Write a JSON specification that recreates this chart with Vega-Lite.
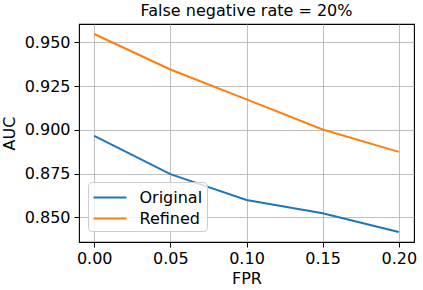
{
  "$schema": "https://vega.github.io/schema/vega-lite/v6.json",
  "width": 335,
  "height": 218,
  "autosize": {"type": "none"},
  "padding": {"left": 79, "top": 24, "right": 9, "bottom": 48},
  "background": "white",
  "title": {"text": "False negative rate = 20%", "fontSize": 16, "fontWeight": "normal", "font": "DejaVu Sans", "color": "black", "offset": 5},
  "config": {
    "font": "DejaVu Sans",
    "view": {"stroke": "black", "strokeWidth": 1.1},
    "axis": {
      "domain": false,
      "grid": true,
      "gridColor": "#b0b0b0",
      "gridWidth": 0.8,
      "tickColor": "black",
      "tickSize": 5,
      "tickWidth": 1,
      "labelFontSize": 16,
      "labelColor": "black",
      "titleFontSize": 16,
      "titleFontWeight": "normal",
      "titleColor": "black",
      "labelFont": "DejaVu Sans",
      "titleFont": "DejaVu Sans"
    }
  },
  "data": {
    "values": [
      {"FPR": 0.00, "AUC": 0.8966, "series": "Original"},
      {"FPR": 0.05, "AUC": 0.8747, "series": "Original"},
      {"FPR": 0.10, "AUC": 0.8599, "series": "Original"},
      {"FPR": 0.15, "AUC": 0.8523, "series": "Original"},
      {"FPR": 0.20, "AUC": 0.8416, "series": "Original"},
      {"FPR": 0.00, "AUC": 0.9548, "series": "Refined"},
      {"FPR": 0.05, "AUC": 0.9345, "series": "Refined"},
      {"FPR": 0.10, "AUC": 0.9174, "series": "Refined"},
      {"FPR": 0.15, "AUC": 0.9002, "series": "Refined"},
      {"FPR": 0.20, "AUC": 0.8874, "series": "Refined"}
    ]
  },
  "mark": {"type": "line", "strokeWidth": 2},
  "encoding": {
    "x": {
      "field": "FPR", "type": "quantitative", "title": "FPR",
      "scale": {"domain": [-0.01, 0.21], "nice": false, "zero": false},
      "axis": {"values": [0, 0.05, 0.1, 0.15, 0.2], "format": ".2f", "labelPadding": 3, "titlePadding": 4}
    },
    "y": {
      "field": "AUC", "type": "quantitative", "title": "AUC",
      "scale": {"domain": [0.8359, 0.9605], "nice": false, "zero": false},
      "axis": {"values": [0.85, 0.875, 0.9, 0.925, 0.95], "format": ".3f", "labelPadding": 4, "titlePadding": 7}
    },
    "color": {
      "field": "series", "type": "nominal",
      "scale": {"domain": ["Original", "Refined"], "range": ["#1f77b4", "#ff7f0e"]},
      "legend": {
        "title": null,
        "orient": "none",
        "legendX": 9,
        "legendY": 158,
        "symbolType": "M-1,0H2.3",
        "symbolSize": 400,
        "symbolStrokeWidth": 2,
        "labelFontSize": 16,
        "labelColor": "black",
        "labelOffset": 25,
        "padding": 4.5,
        "rowPadding": 2,
        "strokeColor": "#cccccc",
        "fillColor": "rgba(255,255,255,0.8)",
        "cornerRadius": 4
      }
    }
  }
}
